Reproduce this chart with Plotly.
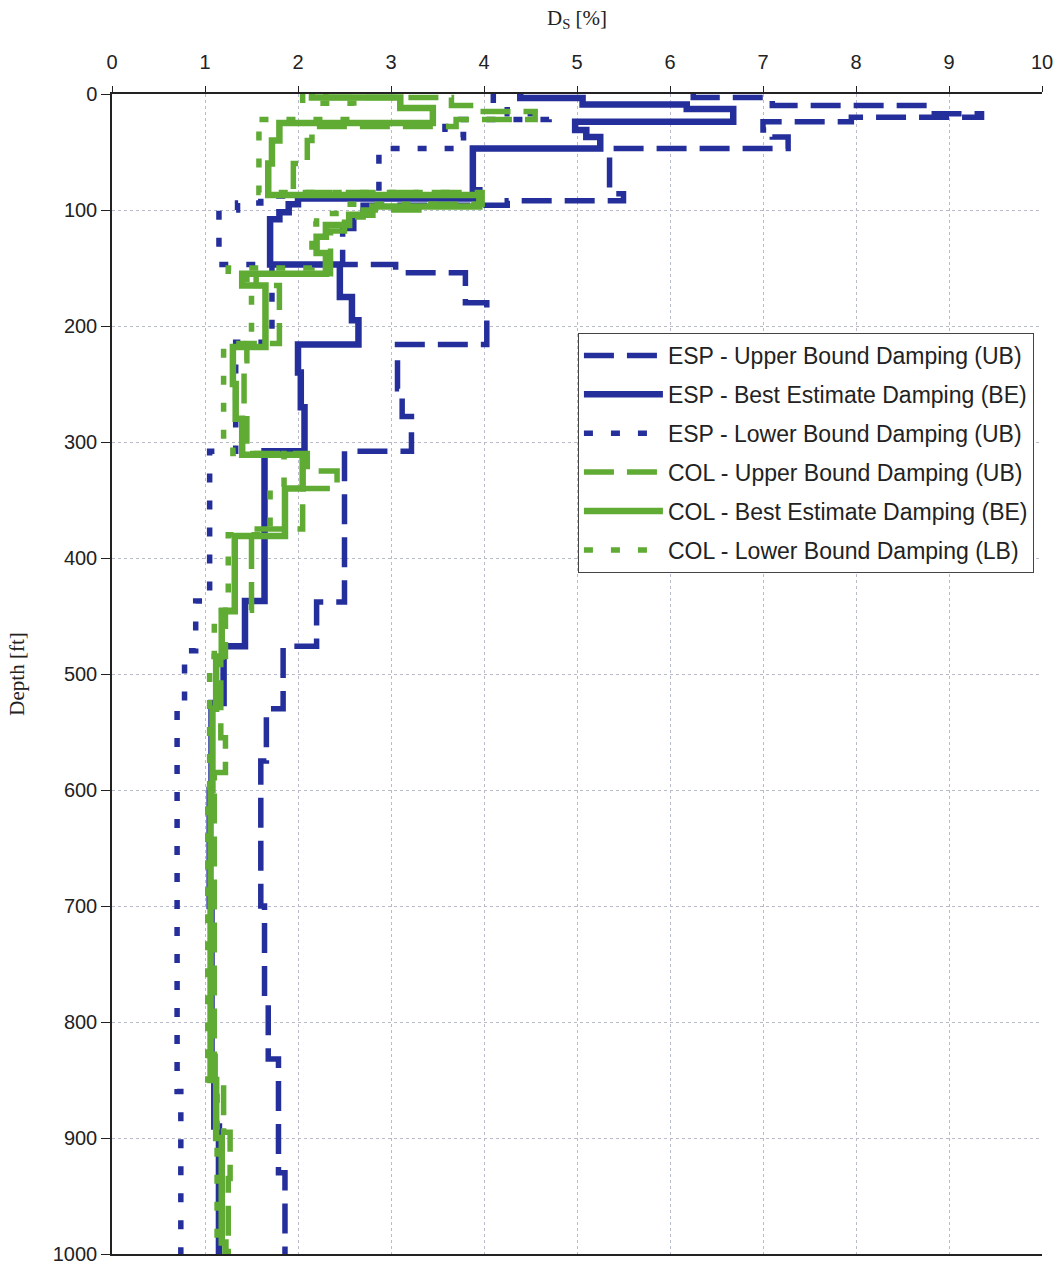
import plotly.graph_objects as go

# Damping profiles D_S [%] versus depth [ft].
# Each profile is a set of layers: *_depth holds the layer boundaries
# (top of first layer ... bottom of last layer), *_ds the damping per layer.

esp_ub_depth = [0, 3, 10, 17, 20, 24, 31, 37, 47, 86, 92, 96, 105, 116, 147, 154, 180,
                216, 254, 278, 308, 438, 476, 530, 575, 700, 780, 832, 930, 1000]
esp_ub_ds = [6.25, 7.1, 8.8, 9.35, 7.95, 7.0, 7.1, 7.27, 5.35, 5.5, 4.25, 2.7, 2.6, 2.48,
             3.05, 3.8, 4.03, 3.07, 3.12, 3.22, 2.5, 2.2, 1.84, 1.66, 1.6, 1.64, 1.68,
             1.79, 1.86]

esp_be_depth = [0, 3.5, 9, 13, 24, 31, 37, 47, 83, 90, 95, 102, 108, 147, 175, 195, 216,
                240, 270, 308, 437, 476, 525, 600, 700, 830, 890, 1000]
esp_be_ds = [4.39, 5.06, 6.18, 6.68, 4.98, 5.1, 5.25, 3.88, 3.95, 2.0, 1.9, 1.8, 1.7,
             2.45, 2.58, 2.65, 2.0, 2.03, 2.07, 1.64, 1.43, 1.2, 1.07, 1.05, 1.07, 1.1,
             1.15]

esp_lb_depth = [0, 8, 17, 22, 28, 35, 47, 88, 94, 100, 147, 214, 308, 437, 480, 530,
                860, 1000]
esp_lb_ds = [4.1, 4.25, 4.7, 3.75, 3.58, 3.78, 2.87, 1.6, 1.35, 1.15, 1.72, 1.33, 1.05,
             0.9, 0.78, 0.7, 0.74]

col_ub_depth = [0, 3, 10, 15, 22, 28, 40, 60, 85, 95, 100, 106, 118, 155, 165, 215, 230,
                280, 310, 325, 340, 375, 445, 485, 555, 585, 850, 895, 935, 1000]
col_ub_ds = [2.3, 3.65, 3.9, 4.55, 3.7, 2.15, 2.1, 1.95, 3.98, 3.3, 2.7, 2.5, 2.35, 1.55,
             1.8, 1.45, 1.42, 1.45, 2.1, 2.42, 2.05, 1.5, 1.22, 1.17, 1.22, 1.1, 1.2,
             1.27, 1.25]

col_be_depth = [0, 3, 12, 25, 40, 60, 87, 97, 104, 113, 123, 137, 155, 165, 218, 250,
                280, 311, 340, 381, 446, 485, 530, 600, 850, 900, 990, 1000]
col_be_ds = [2.15, 3.1, 3.45, 1.8, 1.72, 1.68, 3.95, 2.8, 2.55, 2.3, 2.2, 2.3, 1.4, 1.65,
             1.3, 1.33, 1.4, 2.05, 1.86, 1.32, 1.18, 1.12, 1.08, 1.06, 1.12, 1.18, 1.22]

col_lb_depth = [0, 8, 22, 30, 85, 95, 103, 112, 150, 160, 215, 300, 310, 340, 380, 445,
                485, 600, 850, 1000]
col_lb_ds = [2.05, 2.6, 1.55, 1.58, 3.6, 2.5, 2.2, 2.15, 1.25, 1.5, 1.2, 1.3, 1.85, 1.7,
             1.25, 1.1, 1.05, 1.03, 1.13]

x_ticks = list(range(0, 11))
y_ticks = list(range(0, 1001, 100))

BLUE = "#252f9c"
GREEN = "#5fab34"

series = [
    ("ESP - Upper Bound Damping (UB)", esp_ub_depth, esp_ub_ds, BLUE, 5.5, "30px,13px"),
    ("ESP - Best Estimate Damping (BE)", esp_be_depth, esp_be_ds, BLUE, 6.5, "solid"),
    ("ESP - Lower Bound Damping (UB)", esp_lb_depth, esp_lb_ds, BLUE, 5.5, "9px,18px"),
    ("COL - Upper Bound Damping (UB)", col_ub_depth, col_ub_ds, GREEN, 5.5, "30px,13px"),
    ("COL - Best Estimate Damping (BE)", col_be_depth, col_be_ds, GREEN, 6.5, "solid"),
    ("COL - Lower Bound Damping (LB)", col_lb_depth, col_lb_ds, GREEN, 5.5, "9px,18px"),
]

fig = go.Figure()
for name, depth, ds, color, width, dash in series:
    # one point per layer top, plus the bottom of the last layer;
    # 'vh' steps draw the layer vertically, then the jump at its base
    xs = list(ds) + [ds[-1]]
    ys = list(depth)
    fig.add_trace(go.Scatter(
        x=xs, y=ys, mode="lines", name=name, legendgroup=name,
        line=dict(color=color, width=width, dash=dash, shape="vh"),
        hoverinfo="skip",
    ))

grid_color = "#b8bbc9"
axis_font = dict(family="Liberation Sans, Arial, sans-serif", size=20, color="#222")
title_font = dict(family="Liberation Serif, Times New Roman, serif", size=21, color="#222")

fig.update_layout(
    template="none",
    width=1060, height=1267,
    margin=dict(l=112, r=18, t=94, b=13, autoexpand=False),
    paper_bgcolor="white", plot_bgcolor="white",
    showlegend=True,
    legend=dict(
        x=0.501, y=0.794, xanchor="left", yanchor="top",
        bgcolor="white", bordercolor="#444", borderwidth=1,
        font=dict(family="Liberation Sans, Arial, sans-serif", size=23, color="#222"),
        itemwidth=79, tracegroupgap=6, traceorder="grouped",
    ),
    xaxis=dict(
        side="top", range=[0, 10], tickvals=x_ticks, ticktext=[str(v) for v in x_ticks],
        showgrid=True, gridcolor=grid_color, griddash="dot", gridwidth=1,
        zeroline=False, showline=True, linecolor="#222", linewidth=1.5, mirror=True,
        ticks="outside", ticklen=6, tickcolor="#222", tickfont=axis_font,
        ticklabelstandoff=9,
        title=dict(text="D<sub>S</sub> [%]", font=title_font, standoff=20),
        automargin=False,
    ),
    yaxis=dict(
        range=[1000, 0], tickvals=y_ticks, ticktext=[str(v) for v in y_ticks],
        showgrid=True, gridcolor=grid_color, griddash="dot", gridwidth=1,
        zeroline=False, showline=True, linecolor="#222", linewidth=1.5,
        ticks="outside", ticklen=9, tickcolor="#222", tickfont=axis_font,
        title=dict(text="Depth [ft]", font=title_font, standoff=22),
        automargin=False,
    ),
)

fig.write_html("out.html")
